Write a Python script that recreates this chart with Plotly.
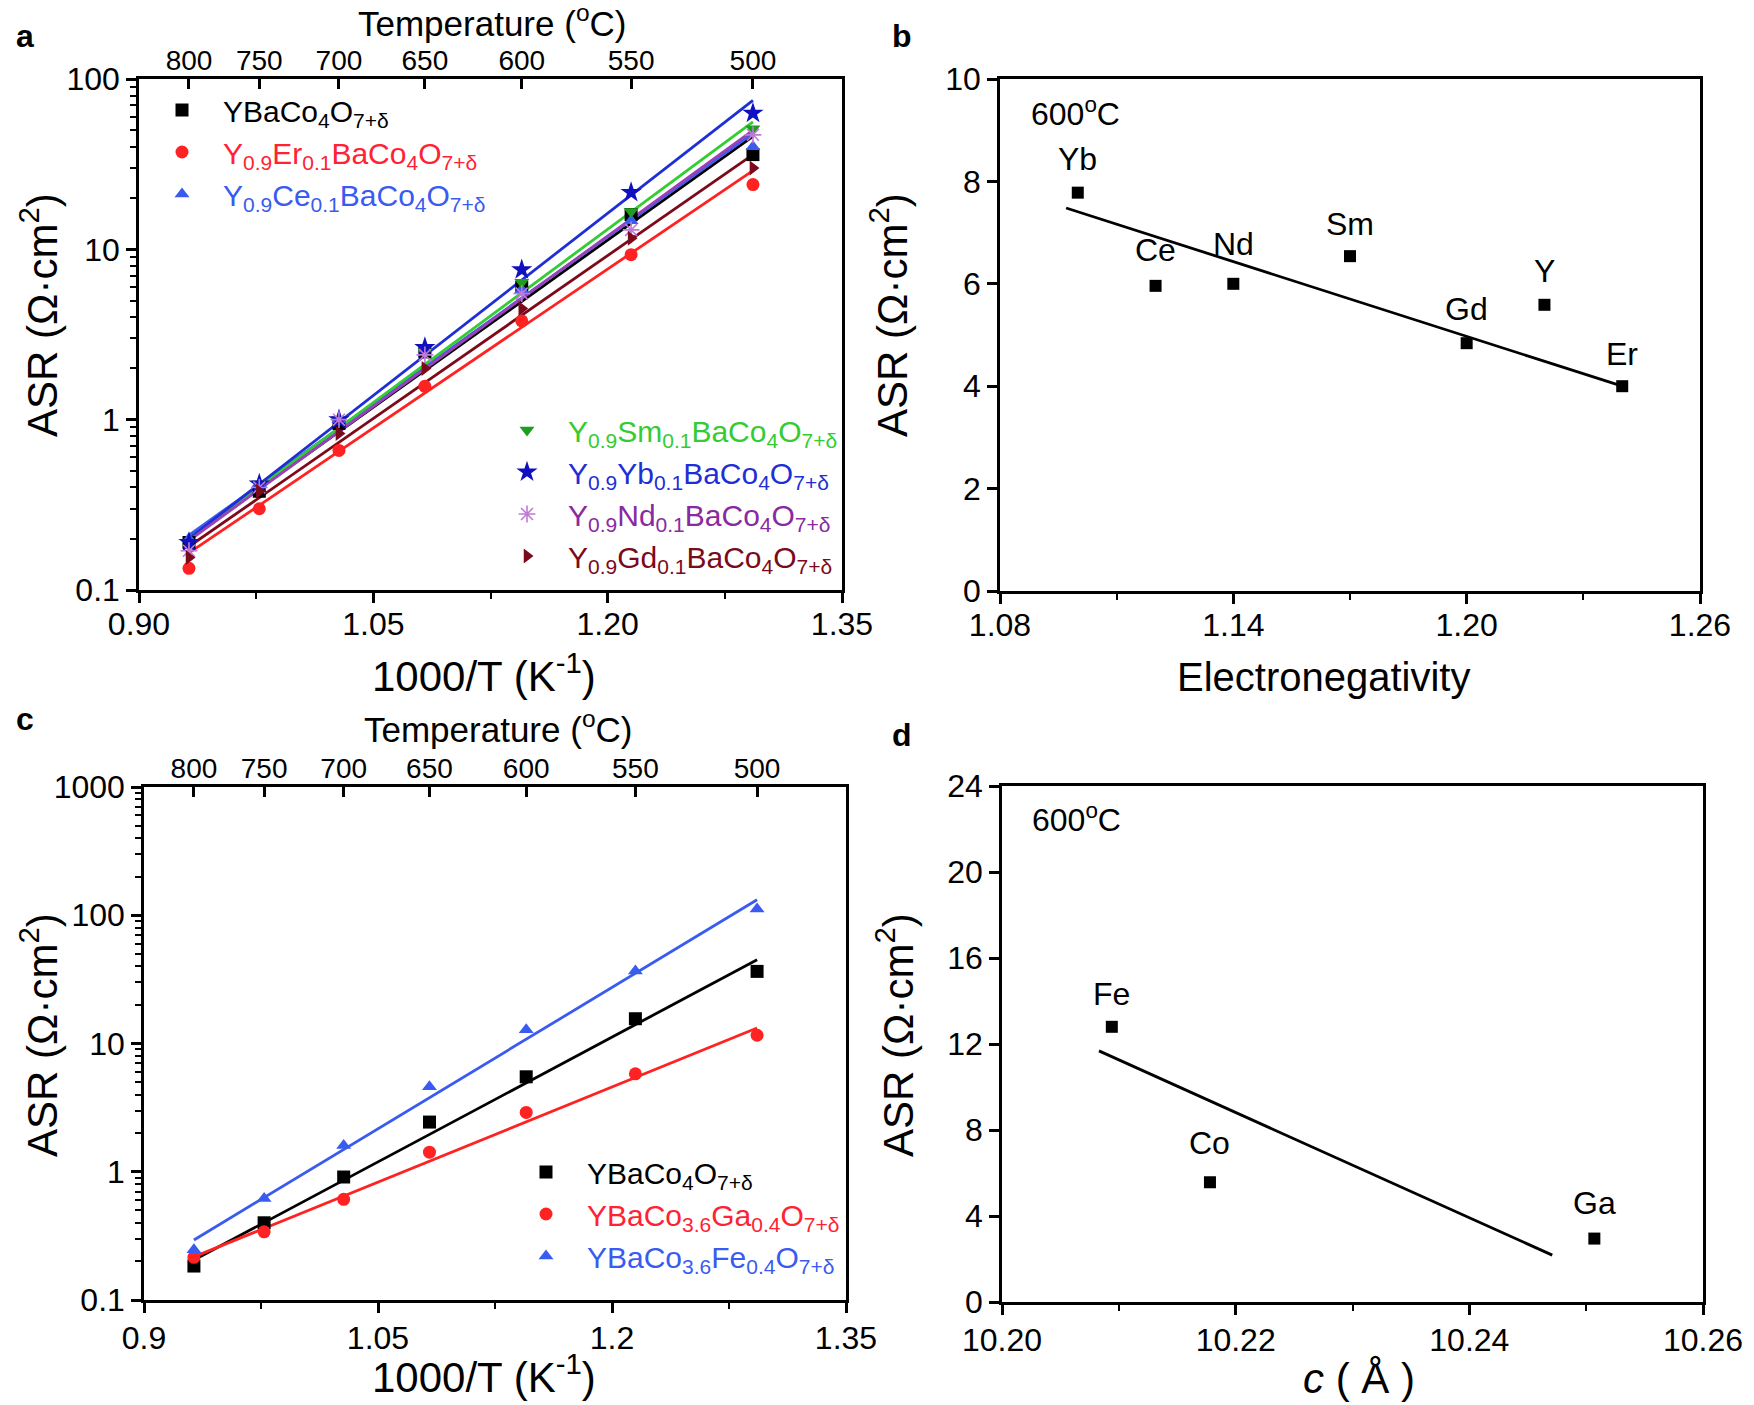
import plotly.graph_objects as go

W, H = 1754, 1405
FONT = "Liberation Sans, Arial, sans-serif"

# ---------------- data ----------------
inv_T = [0.932, 0.977, 1.028, 1.083, 1.145, 1.215, 1.293]      # 1000/T (K^-1)
temp_labels = ["800", "750", "700", "650", "600", "550", "500"]  # top axis labels

# panel a
a_names = [
    "YBaCo<sub>4</sub>O<sub>7+δ</sub>",
    "Y<sub>0.9</sub>Er<sub>0.1</sub>BaCo<sub>4</sub>O<sub>7+δ</sub>",
    "Y<sub>0.9</sub>Ce<sub>0.1</sub>BaCo<sub>4</sub>O<sub>7+δ</sub>",
    "Y<sub>0.9</sub>Sm<sub>0.1</sub>BaCo<sub>4</sub>O<sub>7+δ</sub>",
    "Y<sub>0.9</sub>Yb<sub>0.1</sub>BaCo<sub>4</sub>O<sub>7+δ</sub>",
    "Y<sub>0.9</sub>Nd<sub>0.1</sub>BaCo<sub>4</sub>O<sub>7+δ</sub>",
    "Y<sub>0.9</sub>Gd<sub>0.1</sub>BaCo<sub>4</sub>O<sub>7+δ</sub>",
]
asr_Y = [0.19, 0.38, 0.95, 2.5, 6.0, 16.0, 36.0]
asr_Er = [0.134, 0.30, 0.66, 1.57, 3.8, 9.3, 24.0]
asr_Ce = [0.20, 0.42, 1.0, 2.6, 5.8, 14.7, 40.0]
asr_Sm = [0.19, 0.42, 1.0, 2.5, 6.4, 16.7, 51.0]
asr_Yb = [0.19, 0.42, 1.0, 2.65, 7.6, 21.6, 63.0]
asr_Nd = [0.17, 0.40, 1.0, 2.4, 5.5, 13.0, 47.0]
asr_Gd = [0.155, 0.38, 0.83, 2.0, 4.5, 11.6, 30.0]
a_fit_start = [0.20, 0.165, 0.21, 0.20, 0.20, 0.195, 0.18]
a_fit_end = [46.0, 29.0, 48.0, 56.0, 75.0, 50.0, 36.0]
a_marker_colors = ["#000000", "#FF2222", "#3A5BF0", "#1E9E1E", "#1010C0", "#C07AD6", "#7B0A1A"]
a_line_colors = ["#000000", "#FF2222", "#3A5BF0", "#33CC33", "#1F2FD6", "#9A40B8", "#7B0A1A"]
a_text_colors = ["#000000", "#FF2233", "#3A5BF0", "#33CC33", "#1F2FD6", "#8A2AA0", "#7B0A1A"]
a_symbols = ["square", "circle", "triangle-up", "triangle-down", "star", "asterisk-open", "triangle-right"]
a_series = [asr_Y, asr_Er, asr_Ce, asr_Sm, asr_Yb, asr_Nd, asr_Gd]

# panel b
b_elements = ["Yb", "Ce", "Nd", "Sm", "Gd", "Y", "Er"]
b_electroneg = [1.100, 1.120, 1.140, 1.170, 1.200, 1.220, 1.240]
b_asr = [7.78, 5.96, 6.00, 6.54, 4.84, 5.59, 4.00]
b_fit_x = [1.097, 1.240]
b_fit_y = [7.48, 4.00]

# panel c
c_names = [
    "YBaCo<sub>4</sub>O<sub>7+δ</sub>",
    "YBaCo<sub>3.6</sub>Ga<sub>0.4</sub>O<sub>7+δ</sub>",
    "YBaCo<sub>3.6</sub>Fe<sub>0.4</sub>O<sub>7+δ</sub>",
]
c_Co = [0.184, 0.40, 0.91, 2.44, 5.5, 15.6, 36.5]
c_Ga = [0.215, 0.34, 0.61, 1.42, 2.9, 5.8, 11.6]
c_Fe = [0.247, 0.62, 1.6, 4.6, 12.8, 36.8, 112.0]
c_fit_start = [0.205, 0.217, 0.294]
c_fit_end = [45.0, 13.2, 132.0]
c_colors = ["#000000", "#FF2222", "#3A5BF0"]
c_text_colors = ["#000000", "#FF2233", "#3A5BF0"]
c_symbols = ["square", "circle", "triangle-up"]
c_series = [c_Co, c_Ga, c_Fe]

# panel d
d_elements = ["Fe", "Co", "Ga"]
d_c = [10.2094, 10.2178, 10.2507]
d_asr = [12.8, 5.57, 2.95]
d_fit_x = [10.2083, 10.2471]
d_fit_y = [11.68, 2.18]

# ---------------- layout helpers ----------------
def px(x):
    return x / W

def py(y):
    return 1 - y / H

boxes = {
    "a": (139, 842, 79, 590),
    "b": (1000, 1700, 79, 591),
    "c": (144, 846, 787, 1300),
    "d": (1002, 1703, 786, 1302),
}

fig = go.Figure()

# panel a traces
for i in range(7):
    fig.add_trace(go.Scatter(
        x=[inv_T[0], inv_T[-1]], y=[a_fit_start[i], a_fit_end[i]], mode="lines",
        line=dict(color=a_line_colors[i], width=2.8), showlegend=False,
        xaxis="x", yaxis="y", hoverinfo="skip"))
for i in range(7):
    mk = dict(symbol=a_symbols[i], size=13, color=a_marker_colors[i])
    if a_symbols[i] == "asterisk-open":
        mk = dict(symbol="asterisk-open", size=14, color=a_marker_colors[i],
                  line=dict(color=a_marker_colors[i], width=1.6))
    if a_symbols[i] == "star":
        mk["size"] = 16
    fig.add_trace(go.Scatter(
        x=inv_T, y=a_series[i], mode="markers", marker=mk,
        name="<span style='color:%s'>%s</span>" % (a_text_colors[i], a_names[i]),
        legend="legend" if i < 3 else "legend2",
        xaxis="x", yaxis="y"))
# dummy trace for top axis of a
fig.add_trace(go.Scatter(x=[None], y=[None], xaxis="x5", yaxis="y", showlegend=False))

# panel b
fig.add_trace(go.Scatter(x=b_fit_x, y=b_fit_y, mode="lines", line=dict(color="black", width=2.8),
                         showlegend=False, xaxis="x2", yaxis="y2"))
fig.add_trace(go.Scatter(x=b_electroneg, y=b_asr, mode="markers",
                         marker=dict(symbol="square", size=12, color="black"),
                         showlegend=False, xaxis="x2", yaxis="y2"))

# panel c
for i in range(3):
    fig.add_trace(go.Scatter(
        x=[inv_T[0], inv_T[-1]], y=[c_fit_start[i], c_fit_end[i]], mode="lines",
        line=dict(color=c_colors[i], width=2.8), showlegend=False,
        xaxis="x3", yaxis="y3", hoverinfo="skip"))
for i in range(3):
    fig.add_trace(go.Scatter(
        x=inv_T, y=c_series[i], mode="markers",
        marker=dict(symbol=c_symbols[i], size=13, color=c_colors[i]),
        name="<span style='color:%s'>%s</span>" % (c_text_colors[i], c_names[i]),
        legend="legend3", xaxis="x3", yaxis="y3"))
fig.add_trace(go.Scatter(x=[None], y=[None], xaxis="x6", yaxis="y3", showlegend=False))

# panel d
fig.add_trace(go.Scatter(x=d_fit_x, y=d_fit_y, mode="lines", line=dict(color="black", width=2.8),
                         showlegend=False, xaxis="x4", yaxis="y4"))
fig.add_trace(go.Scatter(x=d_c, y=d_asr, mode="markers",
                         marker=dict(symbol="square", size=12, color="black"),
                         showlegend=False, xaxis="x4", yaxis="y4"))

tickfont = dict(family=FONT, size=32, color="black")
base_ax = dict(showline=True, linecolor="black", linewidth=2.5, mirror=True,
               ticks="outside", ticklen=10, tickwidth=2.5, tickcolor="black",
               showgrid=False, zeroline=False, tickfont=tickfont, automargin=False)

def xdom(k):
    l, r, t, b = boxes[k]
    return [px(l), px(r)]

def ydom(k):
    l, r, t, b = boxes[k]
    return [py(b), py(t)]

log_minor = [m * 10 ** e for e in range(-1, 3) for m in range(2, 10)]

top_ax = dict(side="top", range=[0.9, 1.35],
              tickvals=inv_T, ticktext=temp_labels, ticks="inside", ticklen=10,
              tickwidth=2.5, tickcolor="black", showline=False, showgrid=False,
              zeroline=False, automargin=False, ticklabelstandoff=2,
              tickfont=dict(family=FONT, size=28, color="black"))

fig.update_layout(
    width=W, height=H, margin=dict(l=0, r=0, t=0, b=0, autoexpand=False),
    paper_bgcolor="white", plot_bgcolor="white",
    font=dict(family=FONT, color="black"),
    xaxis=dict(base_ax, domain=xdom("a"), anchor="y", range=[0.9, 1.35],
               tickvals=[0.9, 1.05, 1.2, 1.35], ticktext=["0.90", "1.05", "1.20", "1.35"],
               ticklabelstandoff=-6,
               minor=dict(tickvals=[0.975, 1.125, 1.275], ticks="outside", ticklen=6,
                          tickwidth=2, tickcolor="black")),
    yaxis=dict(base_ax, domain=ydom("a"), anchor="x", type="log", range=[-1, 2],
               tickvals=[0.1, 1, 10, 100], ticktext=["0.1", "1", "10", "100"],
               minor=dict(tickvals=log_minor, ticks="outside", ticklen=6,
                          tickwidth=2, tickcolor="black")),
    xaxis5=dict(top_ax, overlaying="x", anchor="y"),
    xaxis2=dict(base_ax, domain=xdom("b"), anchor="y2", range=[1.08, 1.26],
                tickvals=[1.08, 1.14, 1.20, 1.26], ticktext=["1.08", "1.14", "1.20", "1.26"],
                ticklabelstandoff=-6,
                minor=dict(tickvals=[1.11, 1.17, 1.23], ticks="outside", ticklen=6,
                           tickwidth=2, tickcolor="black")),
    yaxis2=dict(base_ax, domain=ydom("b"), anchor="x2", range=[0, 10],
                tickvals=[0, 2, 4, 6, 8, 10]),
    xaxis3=dict(base_ax, domain=xdom("c"), anchor="y3", range=[0.9, 1.35],
                tickvals=[0.9, 1.05, 1.2, 1.35], ticktext=["0.9", "1.05", "1.2", "1.35"],
                ticklabelstandoff=-2,
                minor=dict(tickvals=[0.975, 1.125, 1.275], ticks="outside", ticklen=6,
                           tickwidth=2, tickcolor="black")),
    yaxis3=dict(base_ax, domain=ydom("c"), anchor="x3", type="log", range=[-1, 3],
                tickvals=[0.1, 1, 10, 100, 1000], ticktext=["0.1", "1", "10", "100", "1000"],
                minor=dict(tickvals=log_minor, ticks="outside", ticklen=6,
                           tickwidth=2, tickcolor="black")),
    xaxis6=dict(top_ax, overlaying="x3", anchor="y3"),
    xaxis4=dict(base_ax, domain=xdom("d"), anchor="y4", range=[10.20, 10.26],
                tickvals=[10.20, 10.22, 10.24, 10.26],
                ticktext=["10.20", "10.22", "10.24", "10.26"],
                ticklabelstandoff=-2,
                minor=dict(tickvals=[10.21, 10.23, 10.25], ticks="outside", ticklen=6,
                           tickwidth=2, tickcolor="black")),
    yaxis4=dict(base_ax, domain=ydom("d"), anchor="x4", range=[0, 24],
                tickvals=[0, 4, 8, 12, 16, 20, 24]),
    legend=dict(x=px(141), y=py(84), xanchor="left", yanchor="top",
                bgcolor="rgba(0,0,0,0)", font=dict(family=FONT, size=30),
                itemwidth=72, tracegroupgap=0),
    legend2=dict(x=px(486), y=py(404), xanchor="left", yanchor="top",
                 bgcolor="rgba(0,0,0,0)", font=dict(family=FONT, size=30),
                 itemwidth=72, tracegroupgap=0),
    legend3=dict(x=px(505), y=py(1146), xanchor="left", yanchor="top",
                 bgcolor="rgba(0,0,0,0)", font=dict(family=FONT, size=30),
                 itemwidth=72, tracegroupgap=0),
    showlegend=True,
)

ann = []
def tx(x, y, text, size=42, angle=0):
    ann.append(dict(x=px(x), y=py(y), xref="paper", yref="paper", text=text,
                    showarrow=False, textangle=angle, xanchor="center", yanchor="middle",
                    font=dict(family=FONT, size=size, color="black")))

# panel letters
for letter, (x, y) in {"a": (25, 36), "b": (902, 36), "c": (25, 719), "d": (902, 735)}.items():
    tx(x, y, "<b>%s</b>" % letter, size=32)

# axis titles
tx(39, 315, "ASR (Ω·cm<sup>2</sup>)", angle=-90)
tx(492, 21, "Temperature (<sup>o</sup>C)", size=35)
tx(484, 673, "1000/T (K<sup>-1</sup>)")
tx(889, 315, "ASR (Ω·cm<sup>2</sup>)", angle=-90)
tx(1323, 677, "Electronegativity", size=40)
tx(39, 1035, "ASR (Ω·cm<sup>2</sup>)", angle=-90)
tx(498, 727, "Temperature (<sup>o</sup>C)", size=35)
tx(484, 1374, "1000/T (K<sup>-1</sup>)")
tx(895, 1035, "ASR (Ω·cm<sup>2</sup>)", angle=-90)
tx(1359, 1378, "<i>c</i> ( Å )")

# 600 C labels
tx(1075, 112, "600<sup>o</sup>C", size=32)
tx(1076, 818, "600<sup>o</sup>C", size=32)

# point labels
b_shift = [34, 36, 40, 32, 34, 34, 32]
for el, xv, yv, s in zip(b_elements, b_electroneg, b_asr, b_shift):
    ann.append(dict(x=xv, y=yv, xref="x2", yref="y2", text=el, showarrow=False,
                    yshift=s, xanchor="center", yanchor="middle",
                    font=dict(family=FONT, size=32, color="black")))
d_shift = [33, 39, 36]
for el, xv, yv, s in zip(d_elements, d_c, d_asr, d_shift):
    ann.append(dict(x=xv, y=yv, xref="x4", yref="y4", text=el, showarrow=False,
                    yshift=s, xanchor="center", yanchor="middle",
                    font=dict(family=FONT, size=32, color="black")))

fig.update_layout(annotations=ann)
fig.write_html("out.html", config={"displayModeBar": False},
               post_script="document.body.style.margin='0px';document.body.style.overflow='hidden';")
